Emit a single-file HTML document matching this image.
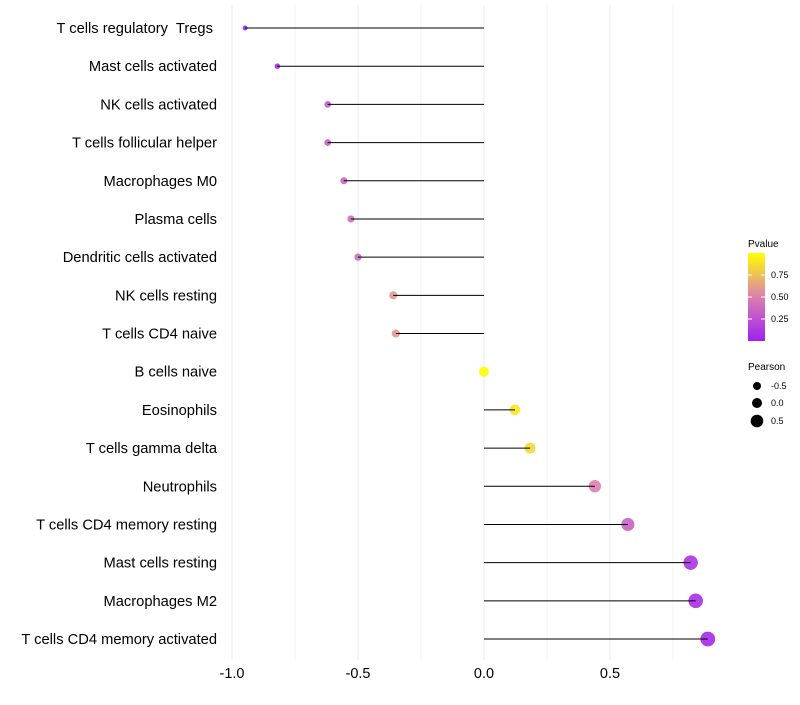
<!DOCTYPE html>
<html><head><meta charset="utf-8"><style>
body{margin:0;background:#fff;font-family:"Liberation Sans",sans-serif}
#labels text{white-space:pre}
</style></head><body>
<svg id="c" width="800" height="700" xmlns="http://www.w3.org/2000/svg">
<defs><linearGradient id="pg" x1="0" y1="1" x2="0" y2="0">
<stop offset="0" stop-color="#a020f0"/><stop offset="0.5" stop-color="#da80b0"/><stop offset="1" stop-color="#ffff00"/></linearGradient></defs>
<g id="grid"></g><g id="dots"></g><g id="marks"></g><g id="labels"></g><g id="xt"></g>
<g font-size="9">
<text x="748" y="247" font-size="10">Pvalue</text>
<rect x="748" y="253" width="17" height="88" fill="url(#pg)"/>
<line x1="748" y1="275" x2="752" y2="275" stroke="#fff"/><line x1="761" y1="275" x2="765" y2="275" stroke="#fff"/>
<line x1="748" y1="297" x2="752" y2="297" stroke="#fff"/><line x1="761" y1="297" x2="765" y2="297" stroke="#fff"/>
<line x1="748" y1="319" x2="752" y2="319" stroke="#fff"/><line x1="761" y1="319" x2="765" y2="319" stroke="#fff"/>
<text x="771" y="278">0.75</text><text x="771" y="300">0.50</text><text x="771" y="322">0.25</text>
<text x="748" y="370" font-size="10">Pearson</text>
<circle cx="757" cy="386" r="4"/><text x="771" y="389">-0.5</text>
<circle cx="757" cy="403" r="5"/><text x="771" y="406">0.0</text>
<circle cx="757" cy="421" r="6.3"/><text x="771" y="424">0.5</text>
</g>
</svg>
<script>
const categories=["T cells regulatory  Tregs ","Mast cells activated","NK cells activated","T cells follicular helper","Macrophages M0","Plasma cells","Dendritic cells activated","NK cells resting","T cells CD4 naive","B cells naive","Eosinophils","T cells gamma delta","Neutrophils","T cells CD4 memory resting","Mast cells resting","Macrophages M2","T cells CD4 memory activated"];
const pearson=[-0.948,-0.82,-0.62,-0.62,-0.556,-0.528,-0.5,-0.36,-0.35,0.0,0.123,0.183,0.44,0.571,0.82,0.84,0.888];
const pvalue=[0.01,0.05,0.3,0.3,0.35,0.4,0.4,0.6,0.6,1.0,0.9,0.85,0.5,0.35,0.1,0.08,0.05];
const xTicks=[-1,-0.5,0,0.5];
const xTickLabels=["-1.0","-0.5","0.0","0.5"];
const NS="http://www.w3.org/2000/svg";
const x=v=>484+252*v;
const y=i=>28+i*(611/16);
function col(p){const s=[[160,32,240],[218,128,176],[255,255,0]];let a,b,t;if(p<0.5){a=s[0];b=s[1];t=p/0.5}else{a=s[1];b=s[2];t=(p-0.5)/0.5}
return "rgb("+a.map((v,k)=>Math.round(v+(b[k]-v)*t)).join(",")+")";}
function mk(t,at,p){const e=document.createElementNS(NS,t);for(const k in at)e.setAttribute(k,at[k]);p.appendChild(e);return e;}
const grid=document.getElementById("grid"),marks=document.getElementById("marks"),dots=document.getElementById("dots"),labels=document.getElementById("labels"),xt=document.getElementById("xt");
for(let v=-1;v<=0.76;v+=0.25){const l=mk("line",{x1:x(v),x2:x(v),y1:5,y2:660,stroke:"#ebebeb","stroke-width":Math.abs(v*2-Math.round(v*2))<1e-6?1:0.6},grid);

}
xTicks.forEach((v,i)=>{const t=mk("text",{x:x(v),y:678,"text-anchor":"middle","font-size":14.5,fill:"#000"},xt);t.textContent=xTickLabels[i];

});
categories.forEach((c,i)=>{
const t=mk("text",{x:217,y:y(i)+5,"text-anchor":"end","font-size":14.7,fill:"#000"},labels);t.textContent=c;


const l=mk("line",{x1:x(0),x2:x(pearson[i]),y1:y(i),y2:y(i),stroke:"#000","stroke-width":1},marks);


const r=Math.max(1.8,5+2.7*pearson[i]);
const d=mk("circle",{cx:x(pearson[i]),cy:y(i),r:r,fill:col(pvalue[i]),"fill-opacity":0.9},dots);


});
</script>
</body></html>
